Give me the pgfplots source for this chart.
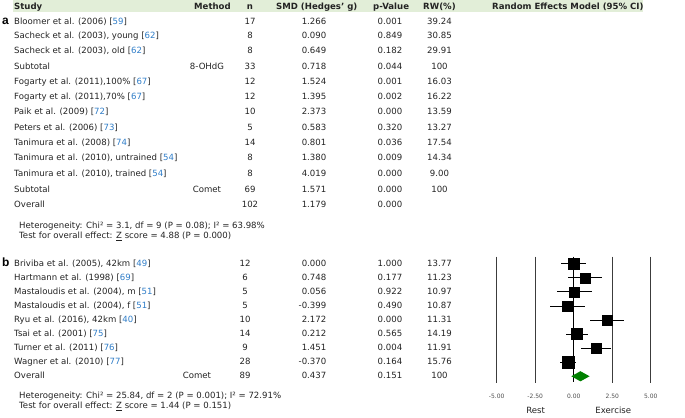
\documentclass[border=0pt]{standalone}
\usepackage{pgfplots}
\pgfplotsset{compat=1.18}
\usepackage{pgfplotstable}
\usepackage{fontspec}
\setmainfont{DejaVu Sans}
\newfontfamily\labfont{Liberation Sans}
\definecolor{refblue}{RGB}{47,125,200}
\definecolor{hdr}{RGB}{226,238,216}
\definecolor{txt}{RGB}{35,35,35}
\definecolor{gridc}{RGB}{60,60,60}
\definecolor{diam}{RGB}{0,128,0}
\newcommand{\fs}{\fontsize{8.6}{10}\selectfont}
\newcommand{\rf}[1]{[\textcolor{refblue}{#1}]}
% forest plot data, panel b (row index, Hedges g, half CI width, marker half size)
\pgfplotstableread{
row g ci ms
1 0.000 0.800 5.4
2 0.748 1.100 5.0
3 0.056 1.130 4.95
4 -0.399 1.140 4.9
5 2.172 1.095 5.0
6 0.212 0.715 5.5
7 1.451 0.985 5.1
8 -0.370 0.520 5.8
}\tabB
\begin{document}
\begin{tikzpicture}[x=1bp,y=1bp,every node/.style={inner sep=0pt,text=txt,font=\fs}]
\path (0,0) rectangle (685,417);
% header band
\fill[hdr] (13,417) rectangle (643,417-12);
\node[anchor=mid west,font=\fs\bfseries] at (14,417-6.5) {Study};
\node[anchor=mid west,font=\fs\bfseries] at (194,417-6.5) {Method};
\node[anchor=mid,font=\fs\bfseries] at (250,417-6.5) {n};
\node[anchor=mid west,font=\fs\bfseries] at (276,417-6.5) {SMD (Hedges' g)};
\node[anchor=mid west,font=\fs\bfseries] at (373,417-6.5) {p-Value};
\node[anchor=mid west,font=\fs\bfseries] at (423,417-6.5) {RW(\%)};
\node[anchor=mid west,font=\fs\bfseries] at (492,417-6.5) {Random Effects Model (95\% CI)};
% panel labels
\node[anchor=mid west,font=\labfont\fontsize{12}{12}\selectfont\bfseries,text=black] at (2,417-21.5) {a};
\node[anchor=mid west,font=\labfont\fontsize{12}{12}\selectfont\bfseries,text=black] at (2,417-263.5) {b};
% panel a rows
\foreach \y/\s/\m/\n/\g/\p/\w in {
21.5/{Bloomer et al. (2006) \rf{59}}//17/1.266/0.001/39.24,
36/{Sacheck et al. (2003), young \rf{62}}//8/0.090/0.849/30.85,
51.2/{Sacheck et al. (2003), old \rf{62}}//8/0.649/0.182/29.91,
66.4/{Subtotal}/8-OHdG/33/0.718/0.044/100,
81.6/{Fogarty et al. (2011),100\% \rf{67}}//12/1.524/0.001/16.03,
96.8/{Fogarty et al. (2011),70\% \rf{67}}//12/1.395/0.002/16.22,
112/{Paik et al. (2009) \rf{72}}//10/2.373/0.000/13.59,
127.3/{Peters et al. (2006) \rf{73}}//5/0.583/0.320/13.27,
142.6/{Tanimura et al. (2008) \rf{74}}//14/0.801/0.036/17.54,
158/{Tanimura et al. (2010), untrained \rf{54}}//8/1.380/0.009/14.34,
173.5/{Tanimura et al. (2010), trained \rf{54}}//8/4.019/0.000/9.00,
189.5/{Subtotal}/Comet/69/1.571/0.000/100,
205/{Overall}//102/1.179/0.000/}{
\node[anchor=mid west] at (14,417-\y) {\s};
\node[anchor=mid] at (207,417-\y) {\m};
\node[anchor=mid] at (250,417-\y) {\n};
\node[anchor=mid east] at (326.5,417-\y) {\g};
\node[anchor=mid] at (390,417-\y) {\p};
\node[anchor=mid] at (439.5,417-\y) {\w};
}
\node[anchor=mid west] at (19,417-226) {Heterogeneity: Chi² = 3.1, df = 9 (P = 0.08); I² = 63.98\%};
\node[anchor=mid west] at (19,417-236) {Test for overall effect: \underline{Z} score = 4.88 (P = 0.000)};
% panel b rows
\foreach \y/\s/\m/\n/\g/\p/\w in {
263.5/{Briviba et al. (2005), 42km \rf{49}}//12/0.000/1.000/13.77,
277.6/{Hartmann et al. (1998) \rf{69}}//6/0.748/0.177/11.23,
291.7/{Mastaloudis et al. (2004), m \rf{51}}//5/0.056/0.922/10.97,
305.7/{Mastaloudis et al. (2004), f \rf{51}}//5/-0.399/0.490/10.87,
319.8/{Ryu et al. (2016), 42km \rf{40}}//10/2.172/0.000/11.31,
333.9/{Tsai et al. (2001) \rf{75}}//14/0.212/0.565/14.19,
348/{Turner et al. (2011) \rf{76}}//9/1.451/0.004/11.91,
362/{Wagner et al. (2010) \rf{77}}//28/-0.370/0.164/15.76,
376.1/{Overall}/Comet/89/0.437/0.151/100}{
\node[anchor=mid west] at (14,417-\y) {\s};
\node[anchor=mid] at (197,417-\y) {\m};
\node[anchor=mid] at (245,417-\y) {\n};
\node[anchor=mid east] at (326.5,417-\y) {\g};
\node[anchor=mid] at (390,417-\y) {\p};
\node[anchor=mid] at (439.5,417-\y) {\w};
}
\node[anchor=mid west] at (19,417-396) {Heterogeneity: Chi² = 25.84, df = 2 (P = 0.001); I² = 72.91\%};
\node[anchor=mid west] at (19,417-406) {Test for overall effect: \underline{Z} score = 1.44 (P = 0.151)};
\node[anchor=mid] at (535.7,417-410.7) {Rest};
\node[anchor=mid] at (613.3,417-410.7) {Exercise};
% forest plot
\begin{axis}[at={(496.7bp,33.7bp)}, anchor=south west, scale only axis,
  width=154bp, height=126.6bp, xmin=-5, xmax=5, ymin=0.5, ymax=9.5, y dir=reverse,
  axis line style={draw=none}, ytick=\empty, xtick={-5,-2.5,0,2.5,5},
  xticklabels={-5.00,-2.50,0.00,2.50,5.00}, major tick length=0pt,
  xticklabel style={font=\fontsize{6}{7}\selectfont, text=black!70, anchor=mid, yshift=-12.7bp},
  clip=false]
\addplot[gridc, line width=1.1pt] coordinates {(-5,0.5) (-5,9.5)};
\addplot[gridc, line width=1.1pt] coordinates {(-2.5,0.5) (-2.5,9.5)};
\addplot[gridc, line width=1.1pt] coordinates {(2.5,0.5) (2.5,9.5)};
\addplot[gridc, line width=1.1pt] coordinates {(5,0.5) (5,9.5)};
\addplot[black, line width=0.7pt] coordinates {(0,0.5) (0,9.4)};
\addplot[only marks, mark=none, error bars/.cd, x dir=both, x explicit, error mark=none,
  error bar style={draw=black, line width=0.8pt}] table[x=g, y=row, x error=ci] {\tabB};
\addplot[scatter, only marks, mark=square*, point meta=explicit, scatter/use mapped color={draw=black, fill=black},
  visualization depends on={\thisrow{ms} \as \msz},
  scatter/@pre marker code/.append style={/tikz/mark size=\msz}] table[x=g, y=row, meta=ms] {\tabB};
\addplot[fill=diam, draw=none] coordinates {(-0.158,9) (0.437,8.64) (1.032,9) (0.437,9.36)} -- cycle;
\end{axis}
\end{tikzpicture}
\end{document}
